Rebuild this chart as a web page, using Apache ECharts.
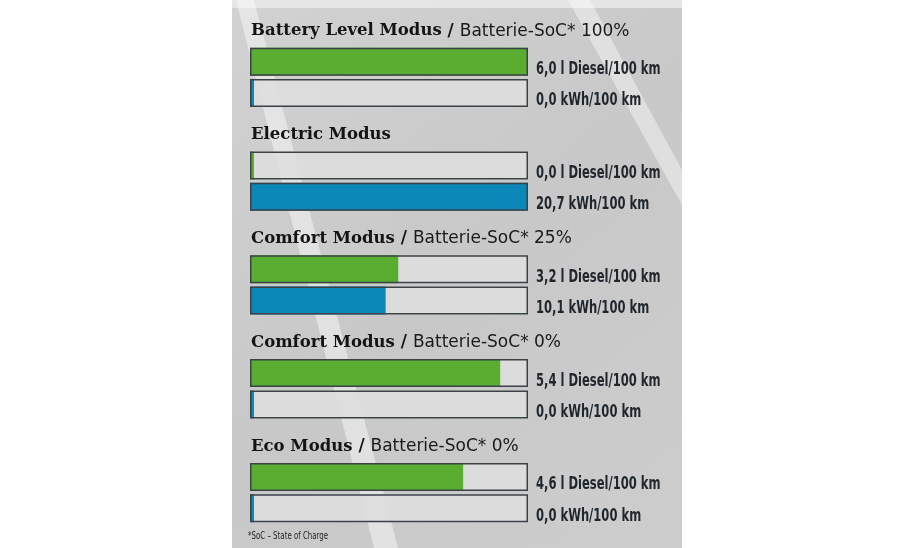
<!DOCTYPE html>
<html>
    <head>
        <meta charset="utf-8">
        <script src="https://cdn.jsdelivr.net/npm/echarts@6/dist/echarts.min.js"></script>
        <style>
            html, body { margin: 0; padding: 0; background: #fff; }
            #main { width: 910px; height: 548px; }
        </style>
    </head>
    <body>
        <div id="main"></div>
        <script>
            // modes and the battery state they were driven at
            var modes = ['Battery Level Modus', 'Electric Modus', 'Comfort Modus', 'Comfort Modus', 'Eco Modus'];
            var socTexts = ['Batterie-SoC* 100%', '', 'Batterie-SoC* 25%', 'Batterie-SoC* 0%', 'Batterie-SoC* 0%'];
            // consumption per mode
            var diesel = [6.0, 0.0, 3.2, 5.4, 4.6];
            var electric = [0.0, 20.7, 10.1, 0.0, 0.0];
            var dieselUnit = ' l Diesel/100 km';
            var electricUnit = ' kWh/100 km';
            // full bar = highest value of each kind
            var dieselMax = 6.0;
            var electricMax = 20.7;

            var chart = echarts.init(document.getElementById('main'));

            var GREEN = '#59ae32';
            var BLUE = '#0b87b8';
            var FRAME = '#3a4246';
            var TRACK = 'rgba(222,222,222,0.9)';
            var COND = '"DejaVu Sans Condensed", "DejaVu Sans", sans-serif';

            var groupStep = 103.8;
            var firstBar = 47.2;
            var rowStep = 31.3;

            function fmt(v) {
                return v.toFixed(1).replace('.', ',');
            }

            var grids = [], xAxes = [], yAxes = [], series = [], headers = [];

            modes.forEach(function (mode, g) {
                var rows = [
                    { value: diesel[g], max: dieselMax, unit: dieselUnit, color: GREEN },
                    { value: electric[g], max: electricMax, unit: electricUnit, color: BLUE }
                ];
                rows.forEach(function (row, r) {
                    var idx = grids.length;
                    grids.push({
                        left: 250, width: 278,
                        top: firstBar + g * groupStep + r * rowStep,
                        height: 29
                    });
                    xAxes.push({
                        gridIndex: idx, type: 'value', min: 0, max: row.max,
                        show: false
                    });
                    yAxes.push({
                        gridIndex: idx, type: 'category', data: [mode],
                        show: false
                    });
                    series.push({
                        type: 'bar',
                        xAxisIndex: idx, yAxisIndex: idx,
                        data: [row.value],
                        barWidth: 28,
                        barMinHeight: 4,
                        showBackground: true,
                        backgroundStyle: { color: TRACK },
                        itemStyle: { color: row.color },
                        silent: true,
                        z: 2
                    });
                    // outline of the track
                    series.push({
                        type: 'bar',
                        xAxisIndex: idx, yAxisIndex: idx,
                        data: [row.max],
                        barWidth: 28,
                        barGap: '-100%',
                        itemStyle: { color: 'rgba(0,0,0,0)', borderColor: FRAME, borderWidth: 1.5 },
                        silent: true,
                        z: 3
                    });
                    // value text right of the track, condensed like the original
                    series.push({
                        type: 'custom',
                        xAxisIndex: idx, yAxisIndex: idx,
                        data: [[row.max, 0, row.value]],
                        silent: true,
                        z: 4,
                        renderItem: function (params, api) {
                            var p = api.coord([api.value(0), api.value(1)]);
                            return {
                                type: 'text',
                                x: p[0] + 8,
                                y: p[1] + 8,
                                scaleX: 0.755,
                                style: {
                                    text: fmt(api.value(2)) + row.unit,
                                    fontFamily: COND,
                                    fontWeight: 'bold',
                                    fontSize: 17,
                                    fill: '#1f262b',
                                    verticalAlign: 'middle'
                                }
                            };
                        }
                    });
                });

                var txt = '{b|' + mode + '}';
                if (socTexts[g]) txt += '{s| / }{r|' + socTexts[g] + '}';
                headers.push({
                    type: 'text', z: 5, silent: true,
                    x: 251,
                    y: firstBar + g * groupStep - 16,
                    style: {
                        text: txt,
                        verticalAlign: 'middle',
                        rich: {
                            b: { fontFamily: '"DejaVu Serif", serif', fontWeight: 'bold', fontSize: 16.5, fill: '#141414' },
                            s: { fontFamily: '"DejaVu Sans", sans-serif', fontWeight: 'bold', fontSize: 17, fill: '#141414' },
                            r: { fontFamily: '"DejaVu Sans", sans-serif', fontSize: 17, fill: '#1a1a1a' }
                        }
                    }
                });
            });

            var option = {
                animation: false,
                backgroundColor: '#ffffff',
                grid: grids,
                xAxis: xAxes,
                yAxis: yAxes,
                series: series,
                graphic: [
                    {
                        type: 'rect', z: -10, silent: true,
                        shape: { x: 232, y: 0, width: 450, height: 548 },
                        style: {
                            fill: new echarts.graphic.LinearGradient(0, 0, 1, 1, [
                                { offset: 0, color: '#d2d2d2' },
                                { offset: 0.5, color: '#c8c8c8' },
                                { offset: 1, color: '#cdcdcd' }
                            ])
                        }
                    },
                    {
                        type: 'rect', z: -9, silent: true,
                        shape: { x: 232, y: 0, width: 450, height: 8 },
                        style: { fill: 'rgba(235,235,235,0.8)' }
                    },
                    {
                        type: 'polygon', z: -9, silent: true,
                        shape: { points: [[236, 0], [254, 0], [398, 548], [374, 548]] },
                        style: { fill: 'rgba(250,250,250,0.5)' }
                    },
                    {
                        type: 'polygon', z: -9, silent: true,
                        shape: { points: [[568, 0], [590, 0], [682, 170], [682, 205]] },
                        style: { fill: 'rgba(250,250,250,0.45)' }
                    },
                    {
                        type: 'text', z: 5, silent: true,
                        x: 248, y: 536,
                        scaleX: 0.78,
                        style: {
                            text: '*SoC – State of Charge',
                            fontFamily: COND,
                            fontSize: 10,
                            fill: '#222',
                            verticalAlign: 'middle'
                        }
                    }
                ].concat(headers)
            };
            chart.setOption(option);
        </script>
    </body>
</html>
